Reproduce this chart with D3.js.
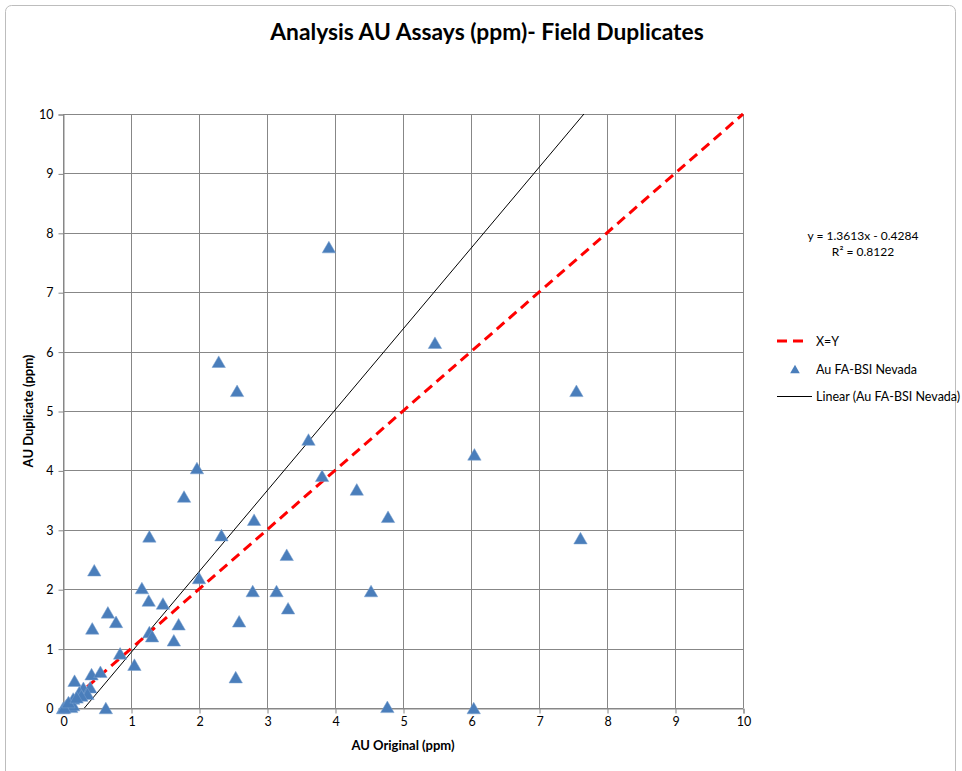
<!DOCTYPE html>
<html>
<head>
<meta charset="utf-8">
<script src="https://cdn.jsdelivr.net/npm/d3@7"></script>
<style>
  html, body { margin: 0; padding: 0; background: #fff; }
  svg { display: block; font-family: Lato, "Open Sans", sans-serif; }
</style>
</head>
<body>
<svg id="chart" width="962" height="771"></svg>
<script>
// ---- data ----
const auOriginal = [3.91, 2.29, 2.56, 5.47, 7.55, 3.61, 6.05, 1.97, 3.81, 4.32,
  1.78, 4.78, 2.81, 2.33, 1.27, 7.61, 3.29, 0.46, 2.00, 1.16,
  2.79, 3.14, 4.53, 1.26, 1.47, 3.31, 0.66, 0.78, 2.59, 1.70,
  0.43, 1.27, 1.31, 1.63, 0.84, 1.05, 2.54, 0.42, 0.55, 0.17,
  0.30, 0.40, 0.24, 0.36, 0.27, 0.15, 0.63, 4.77, 6.04, 0.00,
  0.05, 0.10, 0.12, 0.15, 0.02, 0.08, 0.20];
const auDuplicate = [7.76, 5.83, 5.34, 6.15, 5.34, 4.52, 4.27, 4.04, 3.91, 3.68,
  3.56, 3.22, 3.17, 2.91, 2.89, 2.86, 2.58, 2.32, 2.19, 2.02,
  1.97, 1.97, 1.97, 1.81, 1.76, 1.68, 1.61, 1.45, 1.46, 1.41,
  1.34, 1.28, 1.21, 1.14, 0.92, 0.73, 0.52, 0.57, 0.61, 0.46,
  0.34, 0.35, 0.27, 0.24, 0.21, 0.16, 0.00, 0.02, 0.00, 0.00,
  0.05, 0.08, 0.02, 0.05, 0.01, 0.10, 0.18];
const xTicks = [0, 1, 2, 3, 4, 5, 6, 7, 8, 9, 10];
const yTicks = [0, 1, 2, 3, 4, 5, 6, 7, 8, 9, 10];
const xyLine = [0, 10];
const trendSlope = 1.3613, trendIntercept = -0.4284, trendR2 = 0.8122;
const titleText = "Analysis AU Assays (ppm)- Field Duplicates";
const xLabel = "AU Original (ppm)";
const yLabel = "AU Duplicate (ppm)";
const legendLabels = ["X=Y", "Au FA-BSI Nevada", "Linear (Au FA-BSI Nevada)"];

// ---- layout ----
const svg = d3.select("#chart");
const L = 63, R = 743, T = 114, B = 708;
const x = d3.scaleLinear().domain([0, 10]).range([L, R]);
const y = d3.scaleLinear().domain([0, 10]).range([B, T]);

// triangle centred on its bounding box (like spreadsheet markers)
const boxTriangle = {
  draw(ctx, size) {
    const w = Math.sqrt(size * 4 / Math.sqrt(3));
    const h = w * Math.sqrt(3) / 2;
    ctx.moveTo(0, -h / 2);
    ctx.lineTo(w / 2, h / 2);
    ctx.lineTo(-w / 2, h / 2);
    ctx.closePath();
  }
};

// outer border
svg.append("rect").attr("x", 5.5).attr("y", 5.5).attr("width", 950).attr("height", 800)
  .attr("rx", 6).attr("fill", "none").attr("stroke", "#bdbdbd").attr("stroke-width", 1);

// title
svg.append("text").attr("x", 487).attr("y", 40).attr("text-anchor", "middle")
  .attr("font-size", 22.8).attr("font-weight", "bold").attr("fill", "#000").text(titleText);

// gridlines
const grid = svg.append("g");
grid.selectAll(".gx").data(xTicks).join("line")
  .attr("x1", d => Math.round(x(d)) + 0.5).attr("x2", d => Math.round(x(d)) + 0.5)
  .attr("y1", T).attr("y2", B).attr("stroke", "#878787").attr("stroke-width", 1);
grid.selectAll(".gy").data(yTicks).join("line")
  .attr("y1", d => Math.round(y(d)) + 0.5).attr("y2", d => Math.round(y(d)) + 0.5)
  .attr("x1", L).attr("x2", R).attr("stroke", "#878787").attr("stroke-width", 1);

// axes
const xAxis = d3.axisBottom(x).tickValues(xTicks).tickSize(5).tickPadding(4).tickFormat(d3.format("d"));
const yAxis = d3.axisLeft(y).tickValues(yTicks).tickSize(5).tickPadding(5).tickFormat(d3.format("d"));
const gx = svg.append("g").attr("transform", `translate(0.5,${Math.round(B) + 0.5})`).call(xAxis);
const gy = svg.append("g").attr("transform", `translate(${L + 0.5},0.5)`).call(yAxis);
[gx, gy].forEach(g => {
  g.select(".domain").attr("stroke", "#878787");
  g.selectAll(".tick line").attr("stroke", "#878787");
  g.selectAll(".tick text").attr("font-size", 12.5).attr("fill", "#000")
    .attr("font-family", "Lato, 'Open Sans', sans-serif");
});

// clip
svg.append("clipPath").attr("id", "plotclip").append("rect")
  .attr("x", L).attr("y", T - 2).attr("width", R - L + 2).attr("height", B - T + 2);

const plot = svg.append("g").attr("clip-path", "url(#plotclip)");

// trendline (from regression coefficients)
const tx0 = (0 - trendIntercept) / trendSlope;
const tx1 = (10 - trendIntercept) / trendSlope;
const trendPts = [tx0, tx1].map(v => [x(v), y(trendSlope * v + trendIntercept)]);
plot.append("path").attr("d", d3.line()(trendPts)).attr("stroke", "#000")
  .attr("stroke-width", 1).attr("fill", "none");

// X=Y dashed line
plot.append("path").attr("d", d3.line()(xyLine.map(v => [x(v), y(v)])))
  .attr("stroke", "#ff0000").attr("stroke-width", 3).attr("stroke-dasharray", "10,6")
  .attr("fill", "none");

// points
const tri = d3.symbol(boxTriangle, 78);
svg.append("g").selectAll("path").data(auOriginal.map((v, i) => [v, auDuplicate[i]]))
  .join("path").attr("d", tri)
  .attr("transform", d => `translate(${x(d[0])},${y(d[1])})`)
  .attr("fill", "#4a7ebb").attr("stroke", "#7ba0cf").attr("stroke-width", 0.5);

// axis titles
svg.append("text").attr("x", 403).attr("y", 750).attr("text-anchor", "middle")
  .attr("font-size", 13).attr("font-weight", "bold").text(xLabel);
svg.append("text").attr("transform", `translate(33,${(T + B) / 2}) rotate(-90)`)
  .attr("text-anchor", "middle").attr("font-size", 13).attr("font-weight", "bold").text(yLabel);

// trend equation
const eq = svg.append("g").attr("font-size", 12).attr("text-anchor", "middle");
eq.append("text").attr("x", 863).attr("y", 240)
  .text(`y = ${trendSlope.toFixed(4)}x - ${Math.abs(trendIntercept).toFixed(4)}`);
eq.append("text").attr("x", 863).attr("y", 256).text(`R² = ${trendR2.toFixed(4)}`);

// legend
const lg = svg.append("g").attr("font-size", 12.5);
lg.append("line").attr("x1", 777).attr("x2", 809).attr("y1", 341).attr("y2", 341)
  .attr("stroke", "#ff0000").attr("stroke-width", 3).attr("stroke-dasharray", "10,6");
lg.append("path").attr("d", d3.symbol(boxTriangle, 40))
  .attr("transform", "translate(795,369)").attr("fill", "#4a7ebb");
lg.append("line").attr("x1", 777).attr("x2", 812).attr("y1", 396.5).attr("y2", 396.5)
  .attr("stroke", "#000").attr("stroke-width", 1);
[341, 369, 396].forEach((yy, i) => {
  lg.append("text").attr("x", 816).attr("y", yy + 4.5).text(legendLabels[i]);
});
</script>
</body>
</html>
